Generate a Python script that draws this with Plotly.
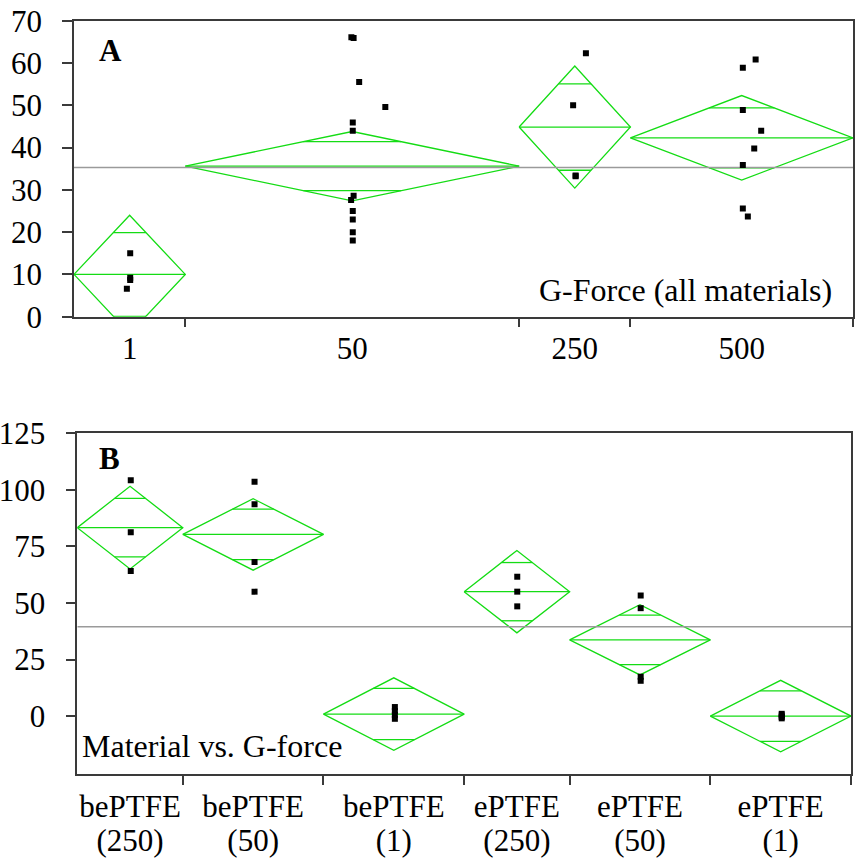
import math
import plotly.graph_objects as go

# ---------------- Panel A: all materials grouped by G-force ----------------
gforce_labels = ["1", "50", "250", "500"]
gforce_values = [
    [15.0, 9.2, 8.7, 6.6],
    [66.1, 65.9, 55.5, 49.6, 45.9, 44.0, 28.6, 27.6, 25.0, 23.0, 20.0, 18.0],
    [62.3, 50.0, 33.4, 33.2],
    [60.8, 58.9, 48.9, 44.0, 39.8, 35.9, 25.6, 23.7],
]
# horizontal spread of the points inside each group (axis units)
gforce_jitter = [
    [0.02, 0.02, 0.02, -0.10],
    [-0.03, 0.05, 0.25, 1.19, 0.02, 0.02, 0.05, -0.04, 0.02, 0.02, 0.02, 0.02],
    [0.40, -0.06, 0.03, 0.03],
    [0.50, 0.04, 0.04, 0.70, 0.45, 0.04, 0.04, 0.22],
]
gforce_means = [10.0, 35.6, 44.85, 42.3]
gforce_ci = [14.0, 8.2, 14.45, 10.0]
gforce_grand_mean = 35.3

# ---------------- Panel B: material vs. G-force ----------------
material_names = ["bePTFE", "bePTFE", "bePTFE", "ePTFE", "ePTFE", "ePTFE"]
material_gforce = ["(250)", "(50)", "(1)", "(250)", "(50)", "(1)"]
material_values = [
    [104.3, 81.3, 64.1],
    [103.6, 93.6, 68.1, 55.0],
    [4.0, 2.2, 0.5, -1.2],
    [61.6, 55.0, 48.5],
    [53.3, 47.7, 17.4, 15.6],
    [1.0, 0.3, -0.4, -1.0],
]
material_jitter = [
    [0.02, 0.02, 0.02],
    [0.04, 0.04, 0.04, 0.04],
    [0.03, 0.03, 0.03, 0.03],
    [0.01, 0.01, 0.01],
    [0.02, 0.02, 0.02, 0.02],
    [0.03, 0.03, 0.03, 0.03],
]
material_means = [83.3, 80.3, 0.9, 55.0, 33.7, 0.0]
material_ci = [18.3, 15.8, 16.0, 18.2, 15.5, 15.8]
material_grand_mean = 39.5

GREEN = "#14dc14"
GREY = "#9a9a9a"
AXIS = "#3a3a3a"
FONT = "Liberation Serif, Times New Roman, serif"


def bounds(groups):
    # group widths proportional to group size
    edges = [0]
    for g in groups:
        edges.append(edges[-1] + len(g))
    return edges


def diamond_xy(left, right, mean, half):
    cx = (left + right) / 2
    ov = half / math.sqrt(2)
    hw = (right - left) / 2 * (1 - 1 / math.sqrt(2))
    xs = [left, cx, right, cx, left, None,
          left, right, None,
          cx - hw, cx + hw, None,
          cx - hw, cx + hw]
    ys = [mean, mean + half, mean, mean - half, mean, None,
          mean, mean, None,
          mean + ov, mean + ov, None,
          mean - ov, mean - ov]
    return xs, ys


def add_panel(fig, groups, jitter, means, cis, grand, xa, ya):
    edges = bounds(groups)
    for i in range(len(groups)):
        xs, ys = diamond_xy(edges[i], edges[i + 1], means[i], cis[i])
        fig.add_trace(go.Scatter(x=xs, y=ys, mode="lines",
                                 line=dict(color=GREEN, width=1.3),
                                 xaxis=xa, yaxis=ya, showlegend=False,
                                 hoverinfo="skip"))
    fig.add_trace(go.Scatter(x=[edges[0], edges[-1]], y=[grand, grand],
                             mode="lines", line=dict(color=GREY, width=1.5),
                             xaxis=xa, yaxis=ya, showlegend=False))
    px, py = [], []
    for i, g in enumerate(groups):
        cx = (edges[i] + edges[i + 1]) / 2
        for v, j in zip(g, jitter[i]):
            px.append(cx + j)
            py.append(v)
    fig.add_trace(go.Scatter(x=px, y=py, mode="markers",
                             marker=dict(symbol="square", size=6, color="black",
                                         line=dict(width=0)),
                             xaxis=xa, yaxis=ya, showlegend=False))
    return edges


fig = go.Figure()
edges_a = add_panel(fig, gforce_values, gforce_jitter, gforce_means, gforce_ci,
                    gforce_grand_mean, "x", "y")
edges_b = add_panel(fig, material_values, material_jitter, material_means,
                    material_ci, material_grand_mean, "x2", "y2")
# carrier for the second row of category labels in panel B
fig.add_trace(go.Scatter(x=[None], y=[None], xaxis="x3", yaxis="y2",
                         showlegend=False))

W, H = 862, 858
centers_a = [(edges_a[i] + edges_a[i + 1]) / 2 for i in range(len(gforce_labels))]
centers_b = [(edges_b[i] + edges_b[i + 1]) / 2 for i in range(len(material_names))]

tickfont = dict(family=FONT, size=31, color="black")

common_x = dict(showgrid=False, zeroline=False, showline=True, mirror=True,
                linecolor=AXIS, linewidth=1.5, ticks="", tickfont=tickfont,
                fixedrange=True, automargin=False)
common_y = dict(showgrid=False, zeroline=False, showline=True, mirror=True,
                linecolor=AXIS, linewidth=1.5, ticks="outside", ticklen=10,
                tickwidth=1.5, tickcolor=AXIS, tickfont=tickfont,
                ticklabelstandoff=14, automargin=False, fixedrange=True)

fig.update_layout(
    template="none",
    width=W, height=H,
    margin=dict(l=0, r=0, t=0, b=0, pad=0),
    paper_bgcolor="white", plot_bgcolor="white",
    font=dict(family=FONT, color="black"),
    xaxis=dict(common_x, domain=[74 / W, 853 / W], anchor="y",
               range=[edges_a[0], edges_a[-1]],
               tickvals=centers_a, ticktext=gforce_labels,
               ticklabelstandoff=3,
               minor=dict(tickvals=edges_a[1:], ticks="outside", ticklen=9,
                          tickwidth=1.5, tickcolor=AXIS, showgrid=False)),
    yaxis=dict(common_y, domain=[1 - 316.7 / H, 1 - 20.7 / H], anchor="x",
               range=[0, 70], tickvals=list(range(0, 71, 10))),
    xaxis2=dict(common_x, domain=[77.3 / W, 851 / W], anchor="y2",
                range=[edges_b[0], edges_b[-1]],
                tickvals=centers_b, ticktext=material_names,
                ticklabelstandoff=4,
                minor=dict(tickvals=edges_b[1:], ticks="outside", ticklen=9,
                           tickwidth=1.5, tickcolor=AXIS, showgrid=False)),
    xaxis3=dict(overlaying="x2", anchor="y2", side="bottom",
                range=[edges_b[0], edges_b[-1]], showgrid=False,
                zeroline=False, showline=False, ticks="",
                tickvals=centers_b, ticktext=material_gforce,
                tickfont=tickfont, ticklabelstandoff=45, fixedrange=True,
                automargin=False),
    yaxis2=dict(common_y, domain=[1 - 774 / H, 1 - 433.3 / H], anchor="x2",
                range=[-25.6, 125], tickvals=[0, 25, 50, 75, 100, 125]),
    annotations=[
        dict(text="<b>A</b>", xref="x domain", yref="y domain",
             x=0.030, y=0.899, xanchor="left", yanchor="middle",
             showarrow=False, font=dict(family=FONT, size=31)),
        dict(text="G-Force (all materials)", xref="x domain", yref="y domain",
             x=0.976, y=0.09, xanchor="right", yanchor="middle",
             showarrow=False, font=dict(family=FONT, size=32)),
        dict(text="<b>B</b>", xref="x2 domain", yref="y2 domain",
             x=0.025, y=0.9275, xanchor="left", yanchor="middle",
             showarrow=False, font=dict(family=FONT, size=31)),
        dict(text="Material vs. G-force", xref="x2 domain", yref="y2 domain",
             x=0.004, y=0.082, xanchor="left", yanchor="middle",
             showarrow=False, font=dict(family=FONT, size=32)),
    ],
)

fig.write_html("out.html")
